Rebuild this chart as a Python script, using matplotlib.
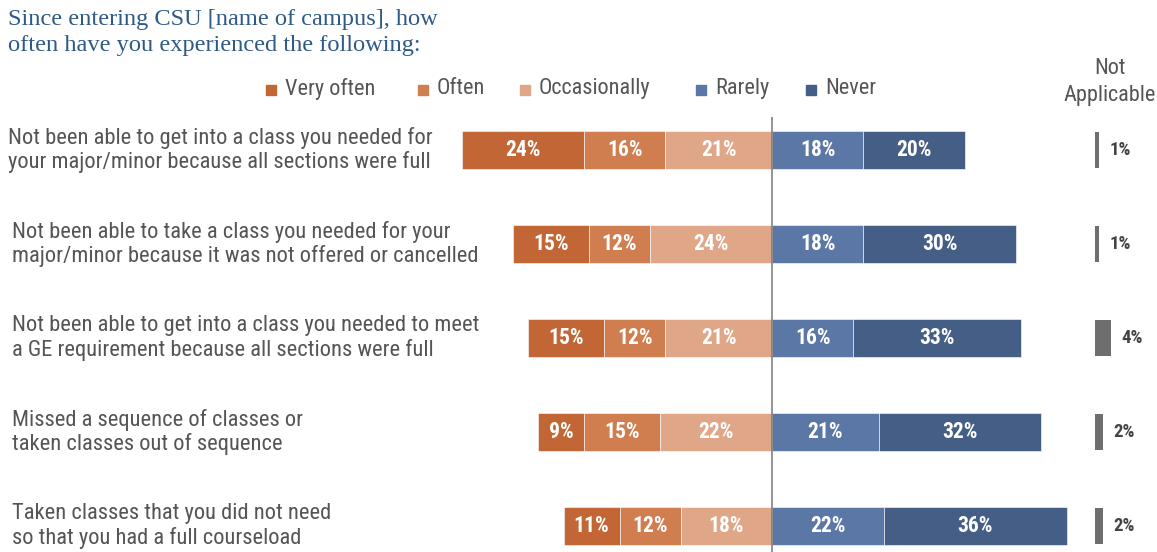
"""Diverging stacked bars: how often students ran into course-access problems,
with a separate 'Not Applicable' column on the right."""
import matplotlib
matplotlib.use("Agg")
import matplotlib.pyplot as plt
from matplotlib.patches import Rectangle
from matplotlib.transforms import blended_transform_factory

SANS = ["Liberation Sans Narrow", "Roboto Condensed", "Roboto", "DejaVu Sans"]
SERIF = ["Liberation Serif", "DejaVu Serif"]

TITLE = "Since entering CSU [name of campus], how\noften have you experienced the following:"
ITEMS = [
    "Not been able to get into a class you needed for\nyour major/minor because all sections were full",
    "Not been able to take a class you needed for your\nmajor/minor because it was not offered or cancelled",
    "Not been able to get into a class you needed to meet\na GE requirement because all sections were full",
    "Missed a sequence of classes or\ntaken classes out of sequence",
    "Taken classes that you did not need\nso that you had a full courseload",
]
LEVELS = ["Very often", "Often", "Occasionally", "Rarely", "Never"]
very_often = [24, 15, 15, 9, 11]
often = [16, 12, 12, 15, 12]
occasionally = [21, 24, 21, 22, 18]
rarely = [18, 18, 16, 21, 22]
never = [20, 30, 33, 32, 36]
not_applicable = [1, 1, 4, 2, 2]

COLORS = ["#C16634", "#D07D50", "#DFA788", "#5B77A6", "#445E85"]
NA_COLOR = "#6E6E6E"
TEXT = "#555555"

W, H = 1157, 552
fig = plt.figure(figsize=(W / 100, H / 100), dpi=100)


def fx(px):
    return px / W


def fy(py):
    return 1 - py / H


# main diverging axis: 0 sits on the divider line
ax = fig.add_axes([fx(440), 0, fx(640), 1 - 117 / H])
ax.set_xlim(-(772 - 440) / 5.08, (1080 - 772) / 5.08)
ax.set_ylim(4.277, -0.351)
ax.axis("off")

rows = range(len(ITEMS))
bar_h = 0.41


def seg_label(x, y, v):
    ax.text(x, y, f"{v}%", ha="center", va="center", color="white",
            fontsize=15.5, fontweight="bold", family=SANS)


for i in rows:
    neg = [very_often[i], often[i], occasionally[i]]
    pos = [rarely[i], never[i]]
    left = -sum(neg)
    for v, c in zip(neg, COLORS[:3]):
        ax.barh(i, v, left=left, height=bar_h, color=c, edgecolor="white", lw=0.4)
        seg_label(left + v / 2, i, v)
        left += v
    left = 0
    for v, c in zip(pos, COLORS[3:]):
        ax.barh(i, v, left=left, height=bar_h, color=c, edgecolor="white", lw=0.4)
        seg_label(left + v / 2, i, v)
        left += v
ax.axvline(0, color="#777777", lw=1.1, zorder=5)

# not-applicable column
na = fig.add_axes([fx(1080), 0, fx(77), 1 - 117 / H])
na.set_xlim(-15 / 4, (W - 1080 - 15) / 4)
na.set_ylim(4.277, -0.351)
na.axis("off")
na.barh(list(rows), not_applicable, height=0.39, color=NA_COLOR)
for i, v in zip(rows, not_applicable):
    na.text(v + 2.6, i, f"{v}%", ha="left", va="center", color="#444444",
            fontsize=13.5, fontweight="bold", family=SANS)
fig.text(fx(1110), fy(68), "Not", ha="center", va="center",
         color=TEXT, fontsize=16, family=SANS)
fig.text(fx(1110), fy(95), "Applicable", ha="center", va="center",
         color=TEXT, fontsize=16, family=SANS)

# item labels, left aligned and centred on each bar
tr = blended_transform_factory(fig.transFigure, ax.transData)
for i, label in enumerate(ITEMS):
    x0 = 8 if i == 0 else 12
    ax.text(fx(x0), i, label, transform=tr, ha="left", va="center",
            color=TEXT, fontsize=16.2, family=SANS, linespacing=1.13)

# title
fig.text(fx(8), fy(9), TITLE, ha="left", va="top", color="#2E5A88",
         fontsize=17.6, family=SERIF, linespacing=1.33)

# legend row
sq_x = [266, 418, 520, 696, 806]
for x0, lab, c in zip(sq_x, LEVELS, COLORS):
    fig.patches.append(Rectangle((fx(x0), fy(95)), fx(10), 10 / H,
                                 transform=fig.transFigure, color=c))
    fig.text(fx(x0 + 19), fy(89), lab, ha="left", va="center",
             color=TEXT, fontsize=16, family=SANS)

fig.savefig("out.png", dpi=100)
